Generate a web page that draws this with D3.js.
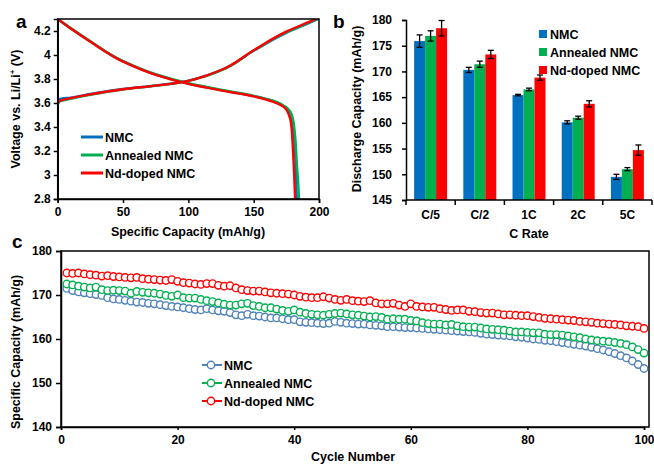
<!DOCTYPE html>
<html>
<head>
<meta charset="utf-8">
<script src="https://cdn.jsdelivr.net/npm/d3@7"></script>
<style>
body{margin:0;background:#fff}
svg{font-family:"Liberation Sans",Arial,sans-serif;font-weight:bold}
.tick text{font-size:12px;font-weight:bold;fill:#000}
.domain,.tick line{stroke:#000;stroke-width:1.5}
</style>
</head>
<body>
<div id="chart"></div>
<script>
// ---- data ----
var seriesNames=['NMC','Annealed NMC','Nd-doped NMC']

// panel a: [capacity mAh/g, voltage V]
var chargeNMC=[[0,3.0],[0,3.6],[0.5,3.625],[2,3.635],[10,3.645],[25,3.675],[50,3.717],[75,3.746],[93,3.771],[100,3.786],[110,3.815],[125,3.873],[150,4.035],[175,4.185],[190,4.255],[199.5,4.3]]
var chargeAnn=[[0,2.8],[0,3.58],[0.5,3.6],[2,3.615],[10,3.635],[25,3.668],[50,3.712],[75,3.743],[93,3.77],[100,3.784],[110,3.813],[125,3.872],[150,4.037],[175,4.19],[190,4.26],[198.5,4.3]]
var chargeNd=[[0,3.1],[0,3.58],[0.5,3.605],[2,3.62],[10,3.64],[25,3.672],[50,3.715],[75,3.745],[93,3.77],[100,3.785],[110,3.815],[125,3.875],[150,4.04],[175,4.195],[190,4.265],[197.5,4.3]]
var dischNMC=[[0,4.3],[10,4.22],[25,4.112],[50,3.947],[75,3.837],[100,3.762],[125,3.707],[150,3.657],[165,3.615],[175,3.555],[177.5,3.5],[179.5,3.42],[181,3.3],[182,3.1],[183,2.8]]
var dischAnn=[[0,4.3],[10,4.225],[25,4.115],[50,3.95],[75,3.84],[100,3.765],[125,3.71],[150,3.66],[165,3.62],[175,3.565],[178,3.53],[180,3.47],[181.5,3.35],[183,3.1],[184,2.95],[184.7,2.8]]
var dischNd=[[0,4.3],[10,4.22],[25,4.11],[50,3.945],[75,3.835],[100,3.76],[125,3.705],[150,3.655],[165,3.61],[172,3.575],[175,3.545],[177,3.5],[178.5,3.44],[180,3.22],[181,3.0],[181.7,2.8]]
var voltTicks=[2.8,3,3.2,3.4,3.6,3.8,4,4.2]

// panel b
var rates=['C/5','C/2','1C','2C','5C']
var rateNMC=[175.9,170.3,165.4,160.1,149.5]
var rateAnn=[176.9,171.4,166.5,161.0,151.0]
var rateNd=[178.4,173.3,168.8,163.7,154.7]
var errNMC=[1.2,0.5,0.15,0.3,0.5]
var errAnn=[1.0,0.6,0.25,0.3,0.3]
var errNd=[1.5,0.8,0.5,0.6,1.0]

// panel c: capacity for cycles 1..100
var cycNMC=[171.5,171.0,170.7,170.5,170.3,170.1,169.9,169.4,169.1,169.0,
168.8,168.6,168.4,168.3,168.1,168.0,167.8,167.6,167.4,167.3,
167.1,166.9,166.7,166.6,166.9,166.6,166.4,166.3,166.0,165.5,
165.3,165.6,165.3,165.2,165.0,164.8,164.8,164.6,164.4,164.4,
163.9,163.8,163.7,163.6,163.5,163.6,164.0,163.8,163.6,163.5,
163.4,163.4,163.2,163.1,163.0,162.8,162.8,162.7,162.6,162.6,
162.5,162.4,162.3,162.2,162.1,162.0,161.9,161.8,161.7,161.6,
161.5,161.3,161.1,161.0,160.9,160.8,160.7,160.5,160.4,160.2,
160.0,159.9,159.7,159.6,159.4,159.2,159.0,158.8,158.6,158.4,
158.1,157.8,157.5,157.1,156.7,156.2,155.7,155.0,154.2,153.3]
var cycAnn=[172.5,172.3,172.0,171.8,171.6,171.8,171.2,171.0,171.1,171.0,
170.9,170.4,170.8,170.6,170.5,170.4,170.2,169.9,169.7,170.0,
169.4,169.3,169.3,169.0,168.7,168.5,168.2,167.9,167.7,167.7,
168.0,168.1,167.6,167.4,167.1,167.1,166.8,166.5,166.3,166.6,
166.1,165.8,165.6,165.5,165.4,165.6,165.8,165.9,165.7,165.5,
165.4,165.2,165.0,165.1,164.9,164.5,164.6,164.5,164.5,164.2,
164.1,163.7,163.5,163.4,163.4,163.2,163.3,163.0,162.8,162.7,
162.7,162.5,162.3,162.2,162.1,162.0,161.8,161.6,161.6,161.5,
161.4,161.4,161.1,161.0,161.0,160.9,160.7,160.5,160.3,160.0,
159.8,159.6,159.5,159.4,159.2,159.0,158.7,158.2,157.6,156.8]
var cycNd=[175.0,174.9,175.0,174.8,174.6,174.5,174.3,174.4,174.2,174.1,
174.0,173.9,174.0,173.7,173.6,173.5,173.4,173.3,173.5,173.1,
172.8,172.7,172.5,172.4,172.6,172.6,172.2,172.0,172.1,171.6,
171.2,171.0,170.9,170.9,170.7,170.5,170.4,170.3,170.2,170.0,
169.7,169.5,169.4,169.4,169.6,169.3,169.0,168.8,169.0,168.7,
168.6,168.5,168.7,168.2,168.0,168.0,168.1,167.7,167.4,168.0,
167.4,167.3,167.2,167.2,166.9,166.7,166.5,166.6,166.6,166.3,
166.2,166.0,165.9,165.9,165.7,165.5,165.5,165.4,165.3,165.3,
165.1,164.9,164.7,164.6,164.5,164.4,164.3,164.2,164.0,163.9,
163.8,163.6,163.5,163.4,163.3,163.2,163.0,162.9,162.8,162.4]

var colAB=['#0070c0','#00b050','#ff0000']
var colC=['#4f81bd','#00b050','#ff0000']

var svg=d3.select('#chart').append('svg')
    .attr('width',654).attr('height',464)

function panelLetter(t,x,y){
    svg.append('text').attr('x',x).attr('y',y)
	.attr('font-size','19px').text(t)
}

// ---------- panel a ----------
function DrawA(){
    var x=d3.scaleLinear().domain([0,200]).range([57.7,319])
    var y=d3.scaleLinear().domain([2.8,4.3]).range([199,19])
    var g=svg.append('g')
    g.append('clipPath').attr('id','clipa').append('rect')
	.attr('x',57.7).attr('y',19).attr('width',319-57.7).attr('height',180)
    var line=d3.line().x(function(d){return x(d[0])}).y(function(d){return y(d[1])})
	.curve(d3.curveMonotoneY)
    var curves=[[chargeNMC,dischNMC],[chargeAnn,dischAnn],[chargeNd,dischNd]]
    curves.forEach(function(c,i){
	c.forEach(function(arr){
	    g.append('path').datum(arr).attr('d',line)
		.attr('clip-path','url(#clipa)')
		.attr('fill','none').attr('stroke',colAB[i]).attr('stroke-width',2.4)
	})
    })
    g.append('rect').attr('x',57.7).attr('y',19).attr('width',319-57.7).attr('height',180)
	.attr('fill','none').attr('stroke','#000').attr('stroke-width',1.5)
    g.append('g').attr('transform','translate(0,199)')
	.call(d3.axisBottom(x).tickValues([0,50,100,150,200]).tickSizeOuter(0).tickSize(4).tickPadding(4))
    g.append('g').attr('transform','translate(57.7,0)')
	.call(d3.axisLeft(y).tickValues(voltTicks).tickSizeOuter(0).tickSize(4).tickPadding(3)
	      .tickFormat(function(d){return d3.format('')(+d.toFixed(1))}))
    g.append('text').attr('x',188).attr('y',236).attr('text-anchor','middle')
	.attr('font-size','12.5px').text('Specific Capacity (mAh/g)')
    var yl=g.append('text').attr('transform','translate(20,109) rotate(-90)')
	.attr('text-anchor','middle').attr('font-size','12.5px')
    yl.append('tspan').text('Voltage vs. Li/Li')
    yl.append('tspan').attr('dy',-5).attr('font-size','8px').text('+')
    yl.append('tspan').attr('dy',5).text(' (V)')
    // legend
    seriesNames.forEach(function(n,i){
	var yy=137+i*18
	g.append('line').attr('x1',81).attr('x2',103).attr('y1',yy).attr('y2',yy)
	    .attr('stroke',colAB[i]).attr('stroke-width',3)
	g.append('text').attr('x',105).attr('y',yy+4.5).attr('font-size','12.5px').text(n)
    })
    panelLetter('a',16,28)
}

// ---------- panel b ----------
function DrawB(){
    var x0=d3.scaleBand().domain(rates).range([406,652]).paddingInner(0.33).paddingOuter(0.165)
    var x1=d3.scaleBand().domain([0,1,2]).range([0,x0.bandwidth()])
    var y=d3.scaleLinear().domain([145,180]).range([200,20])
    var vals=[rateNMC,rateAnn,rateNd], errs=[errNMC,errAnn,errNd]
    var g=svg.append('g')
    vals.forEach(function(v,s){
	rates.forEach(function(r,i){
	    g.append('rect').attr('x',x0(r)+x1(s)).attr('y',y(v[i]))
		.attr('width',x1.bandwidth()).attr('height',y(145)-y(v[i]))
		.attr('fill',colAB[s])
	})
    })
    vals.forEach(function(v,s){
	rates.forEach(function(r,i){
	    var cx=x0(r)+x1(s)+x1.bandwidth()/2
	    var hi=y(v[i]+errs[s][i]), lo=y(v[i]-errs[s][i])
	    g.append('line').attr('x1',cx).attr('x2',cx).attr('y1',hi).attr('y2',lo)
		.attr('stroke','#000').attr('stroke-width',1.3)
	    ;[hi,lo].forEach(function(yy){
		g.append('line').attr('x1',cx-3).attr('x2',cx+3).attr('y1',yy).attr('y2',yy)
		    .attr('stroke','#000').attr('stroke-width',1.3)
	    })
	})
    })
    // x axis with ticks between categories
    var xa=g.append('g')
    xa.append('line').attr('x1',406).attr('x2',652).attr('y1',200).attr('y2',200)
	.attr('stroke','#000').attr('stroke-width',1.5)
    var step=x0.step()
    d3.range(6).forEach(function(i){
	var xx=406+i*step
	xa.append('line').attr('x1',xx).attr('x2',xx).attr('y1',200).attr('y2',205)
	    .attr('stroke','#000').attr('stroke-width',1.5)
    })
    rates.forEach(function(r){
	xa.append('text').attr('x',x0(r)+x0.bandwidth()/2).attr('y',219)
	    .attr('text-anchor','middle').attr('font-size','12px').text(r)
    })
    g.append('g').attr('transform','translate(406,0)')
	.call(d3.axisLeft(y).ticks(7).tickSizeOuter(0).tickSize(4).tickPadding(10))
    g.append('text').attr('x',529).attr('y',238).attr('text-anchor','middle')
	.attr('font-size','12.5px').text('C Rate')
    g.append('text').attr('transform','translate(361,109) rotate(-90)')
	.attr('text-anchor','middle').attr('font-size','12.5px').text('Discharge Capacity (mAh/g)')
    seriesNames.forEach(function(n,i){
	var yy=34+i*18
	g.append('rect').attr('x',539).attr('y',yy-4).attr('width',8).attr('height',8)
	    .attr('fill',colAB[i])
	g.append('text').attr('x',550).attr('y',yy+4.5).attr('font-size','12.5px').text(n)
    })
    panelLetter('b',333,28)
}

// ---------- panel c ----------
function DrawC(){
    var x=d3.scaleLinear().domain([0,100]).range([61,644])
    var y=d3.scaleLinear().domain([140,180]).range([427,251])
    var g=svg.append('g')
    g.append('rect').attr('x',61).attr('y',251).attr('width',649-61).attr('height',176)
	.attr('fill','none').attr('stroke','#000').attr('stroke-width',1.5)
    g.append('g').attr('transform','translate(0,427)')
	.call(d3.axisBottom(x).tickValues([0,20,40,60,80,100]).tickSizeOuter(0).tickSize(3).tickPadding(5))
    g.append('g').attr('transform','translate(61,0)')
	.call(d3.axisLeft(y).ticks(4).tickSizeOuter(0).tickSize(5).tickPadding(4))
    var sets=[cycNMC,cycAnn,cycNd]
    sets.forEach(function(s,k){
	g.append('g').selectAll('circle').data(s).enter().append('circle')
	    .attr('cx',function(d,i){return x(i+1)})
	    .attr('cy',function(d){return y(d)})
	    .attr('r',3.7).attr('fill','#fff')
	    .attr('stroke',colC[k]).attr('stroke-width',1.4)
    })
    g.append('text').attr('x',353).attr('y',461).attr('text-anchor','middle')
	.attr('font-size','12.5px').text('Cycle Number')
    g.append('text').attr('transform','translate(20,352) rotate(-90)')
	.attr('text-anchor','middle').attr('font-size','12.5px').text('Specific Capacity (mAh/g)')
    seriesNames.forEach(function(n,i){
	var yy=365+i*18
	g.append('line').attr('x1',202).attr('x2',222).attr('y1',yy).attr('y2',yy)
	    .attr('stroke',colC[i]).attr('stroke-width',2)
	g.append('circle').attr('cx',211).attr('cy',yy).attr('r',3.7)
	    .attr('fill','#fff').attr('stroke',colC[i]).attr('stroke-width',1.4)
	g.append('text').attr('x',224).attr('y',yy+4.5).attr('font-size','12.5px').text(n)
    })
    panelLetter('c',12,248)
}

DrawA()
DrawB()
DrawC()
</script>
</body>
</html>
